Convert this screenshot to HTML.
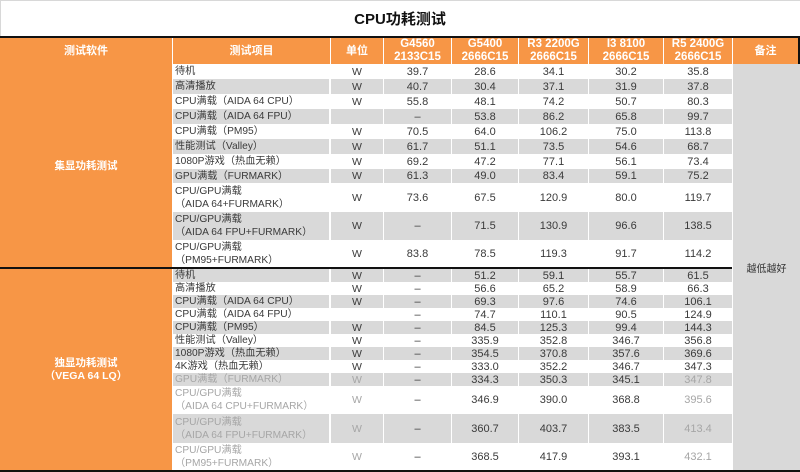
<!DOCTYPE html>
<html><head><meta charset="utf-8">
<style>
html,body{margin:0;padding:0;}
body{width:800px;height:472px;overflow:hidden;background:#fff;position:relative;font-family:"Liberation Sans","Noto Sans CJK SC",sans-serif;color:#3a3a3a;}
.a{position:absolute;}
.title{left:0;top:0;width:800px;height:36px;text-align:center;line-height:38px;font-size:15px;font-weight:bold;color:#111;border-top:1px solid #d8d8d8;box-sizing:border-box;}
.blk{background:#111;}
.or{background:#f79646;color:#fff;font-weight:bold;display:flex;align-items:center;justify-content:center;text-align:center;}
.h{top:38px;height:26px;font-size:11.5px;line-height:13px;}
.r{position:absolute;left:0;width:800px;}
.c{position:absolute;top:0;bottom:0;display:flex;align-items:center;justify-content:center;font-size:11px;box-sizing:border-box;white-space:nowrap;}
.g .c{background:#d9d9d9;}
.k2{left:173px;width:156px;justify-content:flex-start;padding-left:2px;font-size:10.2px;line-height:13px;}
.k3{left:331px;width:52px;font-size:10.5px;}
.k4{left:384px;width:67px;}
.k5{left:452px;width:66px;}
.k6{left:519px;width:69px;}
.k7{left:589px;width:74px;}
.k8{left:664px;width:68px;}
.lt{color:#a6a6a6;}
</style></head><body>
<div class="a title">CPU功耗测试</div>
<div class="a" style="left:0;top:0;width:1px;height:36px;background:#d8d8d8"></div>
<div class="a blk" style="left:0;top:36px;width:800px;height:2px"></div>

<!-- header -->
<div class="a or h" style="left:0;width:172px;font-size:11px">测试软件</div>
<div class="a or h" style="left:173px;width:157px;font-size:11px">测试项目</div>
<div class="a or h" style="left:331px;width:52px;font-size:11px">单位</div>
<div class="a or h" style="left:384px;width:67px">G4560<br>2133C15</div>
<div class="a or h" style="left:452px;width:66px">G5400<br>2666C15</div>
<div class="a or h" style="left:519px;width:69px">R3 2200G<br>2666C15</div>
<div class="a or h" style="left:589px;width:74px">I3 8100<br>2666C15</div>
<div class="a or h" style="left:664px;width:68px">R5 2400G<br>2666C15</div>
<div class="a or h" style="left:733px;width:65px;font-size:11px">备注</div>
<div class="a blk" style="left:798px;top:36px;width:2px;height:28px"></div>

<!-- left labels -->
<div class="a or" style="left:0;top:64px;width:172px;height:203px;font-size:10.5px;">集显功耗测试</div>
<div class="a or" style="left:0;top:269px;width:172px;height:201px;font-size:10.5px;line-height:13px;">独显功耗测试<br>（VEGA 64 LQ）</div>

<!-- remark column -->
<div class="a" style="left:733px;top:64px;width:67px;height:406px;background:#d9d9d9;display:flex;align-items:center;justify-content:center;font-size:10px;color:#333;">越低越好</div>

<!-- section 1 -->
<div class="r" style="top:64px;height:15px"><div class="c k2">待机</div><div class="c k3">W</div><div class="c k4">39.7</div><div class="c k5">28.6</div><div class="c k6">34.1</div><div class="c k7">30.2</div><div class="c k8">35.8</div></div>
<div class="r g" style="top:79px;height:15px"><div class="c k2">高清播放</div><div class="c k3">W</div><div class="c k4">40.7</div><div class="c k5">30.4</div><div class="c k6">37.1</div><div class="c k7">31.9</div><div class="c k8">37.8</div></div>
<div class="r" style="top:94px;height:15px"><div class="c k2">CPU满载（AIDA 64 CPU）</div><div class="c k3">W</div><div class="c k4">55.8</div><div class="c k5">48.1</div><div class="c k6">74.2</div><div class="c k7">50.7</div><div class="c k8">80.3</div></div>
<div class="r g" style="top:109px;height:15px"><div class="c k2">CPU满载（AIDA 64 FPU）</div><div class="c k3"></div><div class="c k4">–</div><div class="c k5">53.8</div><div class="c k6">86.2</div><div class="c k7">65.8</div><div class="c k8">99.7</div></div>
<div class="r" style="top:124px;height:15px"><div class="c k2">CPU满载（PM95）</div><div class="c k3">W</div><div class="c k4">70.5</div><div class="c k5">64.0</div><div class="c k6">106.2</div><div class="c k7">75.0</div><div class="c k8">113.8</div></div>
<div class="r g" style="top:139px;height:15px"><div class="c k2">性能测试（Valley）</div><div class="c k3">W</div><div class="c k4">61.7</div><div class="c k5">51.1</div><div class="c k6">73.5</div><div class="c k7">54.6</div><div class="c k8">68.7</div></div>
<div class="r" style="top:154px;height:15px"><div class="c k2">1080P游戏（热血无赖）</div><div class="c k3">W</div><div class="c k4">69.2</div><div class="c k5">47.2</div><div class="c k6">77.1</div><div class="c k7">56.1</div><div class="c k8">73.4</div></div>
<div class="r g" style="top:169px;height:14px"><div class="c k2">GPU满载（FURMARK）</div><div class="c k3">W</div><div class="c k4">61.3</div><div class="c k5">49.0</div><div class="c k6">83.4</div><div class="c k7">59.1</div><div class="c k8">75.2</div></div>
<div class="r" style="top:183px;height:29px"><div class="c k2">CPU/GPU满载<br>（AIDA 64+FURMARK）</div><div class="c k3">W</div><div class="c k4">73.6</div><div class="c k5">67.5</div><div class="c k6">120.9</div><div class="c k7">80.0</div><div class="c k8">119.7</div></div>
<div class="r g" style="top:212px;height:28px"><div class="c k2">CPU/GPU满载<br>（AIDA 64 FPU+FURMARK）</div><div class="c k3">W</div><div class="c k4">–</div><div class="c k5">71.5</div><div class="c k6">130.9</div><div class="c k7">96.6</div><div class="c k8">138.5</div></div>
<div class="r" style="top:240px;height:27px"><div class="c k2">CPU/GPU满载<br>（PM95+FURMARK）</div><div class="c k3">W</div><div class="c k4">83.8</div><div class="c k5">78.5</div><div class="c k6">119.3</div><div class="c k7">91.7</div><div class="c k8">114.2</div></div>

<div class="a blk" style="left:0;top:267px;width:732px;height:2px"></div>

<!-- section 2 -->
<div class="r g" style="top:269px;height:13px"><div class="c k2">待机</div><div class="c k3">W</div><div class="c k4">–</div><div class="c k5">51.2</div><div class="c k6">59.1</div><div class="c k7">55.7</div><div class="c k8">61.5</div></div>
<div class="r" style="top:282px;height:13px"><div class="c k2">高清播放</div><div class="c k3">W</div><div class="c k4">–</div><div class="c k5">56.6</div><div class="c k6">65.2</div><div class="c k7">58.9</div><div class="c k8">66.3</div></div>
<div class="r g" style="top:295px;height:13px"><div class="c k2">CPU满载（AIDA 64 CPU）</div><div class="c k3">W</div><div class="c k4">–</div><div class="c k5">69.3</div><div class="c k6">97.6</div><div class="c k7">74.6</div><div class="c k8">106.1</div></div>
<div class="r" style="top:308px;height:13px"><div class="c k2">CPU满载（AIDA 64 FPU）</div><div class="c k3"></div><div class="c k4">–</div><div class="c k5">74.7</div><div class="c k6">110.1</div><div class="c k7">90.5</div><div class="c k8">124.9</div></div>
<div class="r g" style="top:321px;height:13px"><div class="c k2">CPU满载（PM95）</div><div class="c k3">W</div><div class="c k4">–</div><div class="c k5">84.5</div><div class="c k6">125.3</div><div class="c k7">99.4</div><div class="c k8">144.3</div></div>
<div class="r" style="top:334px;height:13px"><div class="c k2">性能测试（Valley）</div><div class="c k3">W</div><div class="c k4">–</div><div class="c k5">335.9</div><div class="c k6">352.8</div><div class="c k7">346.7</div><div class="c k8">356.8</div></div>
<div class="r g" style="top:347px;height:13px"><div class="c k2">1080P游戏（热血无赖）</div><div class="c k3">W</div><div class="c k4">–</div><div class="c k5">354.5</div><div class="c k6">370.8</div><div class="c k7">357.6</div><div class="c k8">369.6</div></div>
<div class="r" style="top:360px;height:13px"><div class="c k2">4K游戏（热血无赖）</div><div class="c k3">W</div><div class="c k4">–</div><div class="c k5">333.0</div><div class="c k6">352.2</div><div class="c k7">346.7</div><div class="c k8">347.3</div></div>
<div class="r g" style="top:373px;height:13px"><div class="c k2 lt">GPU满载（FURMARK）</div><div class="c k3 lt">W</div><div class="c k4">–</div><div class="c k5">334.3</div><div class="c k6">350.3</div><div class="c k7">345.1</div><div class="c k8 lt">347.8</div></div>
<div class="r" style="top:386px;height:28px"><div class="c k2 lt">CPU/GPU满载<br>（AIDA 64 CPU+FURMARK）</div><div class="c k3 lt">W</div><div class="c k4">–</div><div class="c k5">346.9</div><div class="c k6">390.0</div><div class="c k7">368.8</div><div class="c k8 lt">395.6</div></div>
<div class="r g" style="top:414px;height:29px"><div class="c k2 lt">CPU/GPU满载<br>（AIDA 64 FPU+FURMARK）</div><div class="c k3 lt">W</div><div class="c k4">–</div><div class="c k5">360.7</div><div class="c k6">403.7</div><div class="c k7">383.5</div><div class="c k8 lt">413.4</div></div>
<div class="r" style="top:443px;height:27px"><div class="c k2 lt">CPU/GPU满载<br>（PM95+FURMARK）</div><div class="c k3 lt">W</div><div class="c k4">–</div><div class="c k5">368.5</div><div class="c k6">417.9</div><div class="c k7">393.1</div><div class="c k8 lt">432.1</div></div>

<div class="a blk" style="left:0;top:470px;width:800px;height:2px"></div>
</body></html>
